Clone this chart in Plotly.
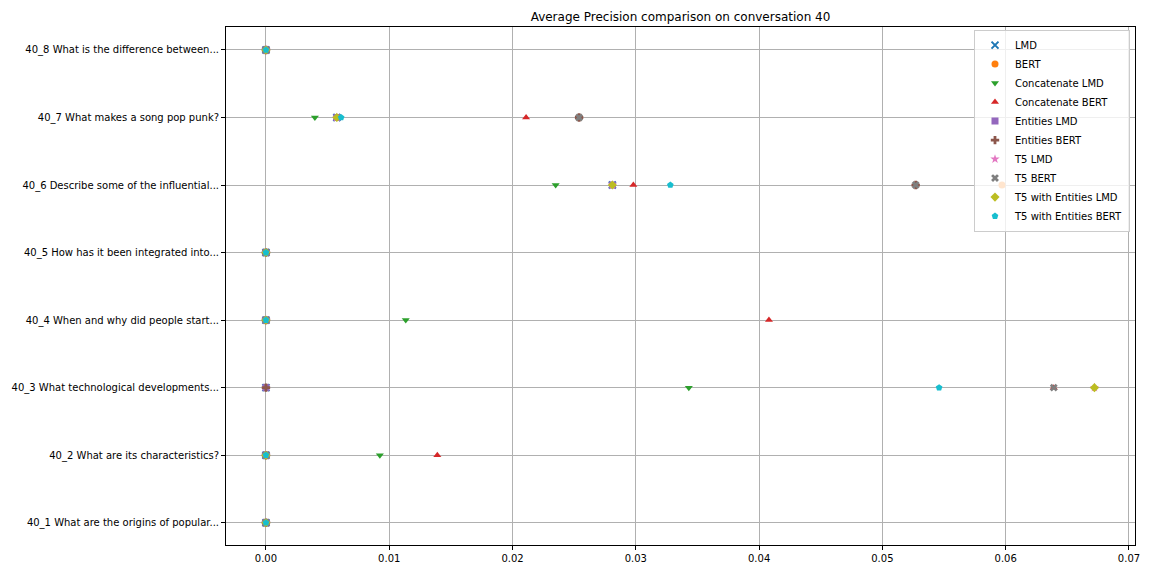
import plotly.graph_objects as go

questions = [
    "40_1 What are the origins of popular...",
    "40_2 What are its characteristics?",
    "40_3 What technological developments...",
    "40_4 When and why did people start...",
    "40_5 How has it been integrated into...",
    "40_6 Describe some of the influential...",
    "40_7 What makes a song pop punk?",
    "40_8 What is the difference between...",
]

lmd = [0, 0, 0, 0, 0, 0.0281, 0.00575, 0]
bert = [0, 0, 0, 0, 0, 0.0597, 0.0254, 0]
concat_lmd = [0, 0.00924, 0.0343, 0.01134, 0, 0.0235, 0.00397, 0]
concat_bert = [0, 0.0139, 0.0639, 0.0408, 0, 0.0298, 0.0211, 0]
entities_lmd = [0, 0, 0, 0, 0, 0.0281, 0.00575, 0]
entities_bert = [0, 0, 0, 0, 0, 0.0527, 0.0254, 0]
t5_lmd = [0, 0, 0.0672, 0, 0, 0.0281, 0.00575, 0]
t5_bert = [0, 0, 0.0639, 0, 0, 0.0527, 0.0254, 0]
t5_ent_lmd = [0, 0, 0.0672, 0, 0, 0.0281, 0.00575, 0]
t5_ent_bert = [0, 0, 0.0546, 0, 0, 0.0328, 0.0061, 0]

x_ticks = [0.0, 0.01, 0.02, 0.03, 0.04, 0.05, 0.06, 0.07]

series = [
    ("LMD", lmd, "x-thin", "#1f77b4"),
    ("BERT", bert, "circle", "#ff7f0e"),
    ("Concatenate LMD", concat_lmd, "triangle-down", "#2ca02c"),
    ("Concatenate BERT", concat_bert, "triangle-up", "#d62728"),
    ("Entities LMD", entities_lmd, "square", "#9467bd"),
    ("Entities BERT", entities_bert, "cross", "#8c564b"),
    ("T5 LMD", t5_lmd, "star", "#e377c2"),
    ("T5 BERT", t5_bert, "x", "#7f7f7f"),
    ("T5 with Entities LMD", t5_ent_lmd, "diamond", "#bcbd22"),
    ("T5 with Entities BERT", t5_ent_bert, "pentagon", "#17becf"),
]

ypos = list(range(len(questions)))

fig = go.Figure()
for name, vals, sym, col in series:
    marker = dict(symbol=sym, color=col, size=7)
    if sym == "x-thin":
        marker["line"] = dict(color=col, width=2)
    else:
        marker["line"] = dict(width=0)
    fig.add_trace(go.Scatter(x=vals, y=ypos, mode="markers", name=name, marker=marker))

fig.update_layout(
    width=1152, height=576,
    paper_bgcolor="white", plot_bgcolor="white",
    margin=dict(l=226, r=16, t=27, b=29),
    font=dict(family="DejaVu Sans", size=10, color="black"),
    title=dict(text="Average Precision comparison on conversation 40", x=0.5, xanchor="center",
               xref="paper", y=1 - 17 / 576, yanchor="middle", font=dict(size=12)),
    legend=dict(x=0.9945, y=0.995, xanchor="right", yanchor="top", bgcolor="rgba(255,255,255,0.8)",
                bordercolor="#cccccc", borderwidth=1, font=dict(size=10), tracegroupgap=0,
                itemwidth=30),
    showlegend=True,
)
fig.update_xaxes(range=[-0.00324, 0.07049], tickvals=x_ticks, tickformat=".2f",
                 showgrid=True, gridcolor="#b0b0b0", gridwidth=1, zeroline=False,
                 showline=True, linecolor="black", linewidth=1, mirror=True,
                 ticks="outside", ticklen=4, tickcolor="black")
fig.update_yaxes(range=[-0.33, 7.34], tickvals=ypos, ticktext=questions,
                 showgrid=True, gridcolor="#b0b0b0", gridwidth=1, zeroline=False,
                 showline=True, linecolor="black", linewidth=1, mirror=True,
                 ticks="outside", ticklen=4, tickcolor="black")

fig.write_html("out.html", config={"displayModeBar": False},
               post_script="document.body.style.margin='0';document.body.style.padding='0';")
